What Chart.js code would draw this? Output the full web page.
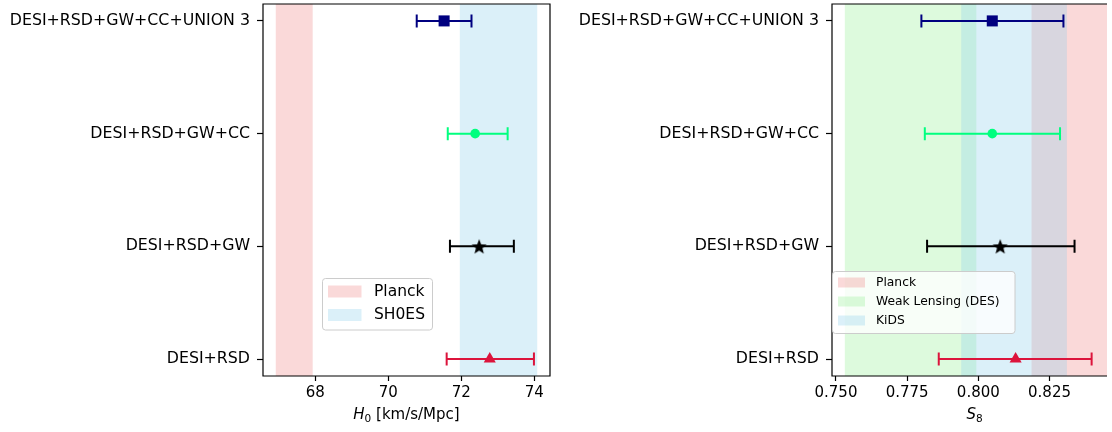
<!DOCTYPE html>
<html>
<head>
<meta charset="utf-8">
<script src="https://cdn.jsdelivr.net/npm/chart.js@4.4.1/dist/chart.umd.min.js"></script>
<style>
  body { margin: 0; background: #fff; }
  #wrap { position: relative; width: 1112px; height: 432px; }
  canvas { position: absolute; top: 0; }
</style>
</head>
<body>
<div id="wrap">
  <canvas id="h0Chart" width="556" height="432" style="left:0"></canvas>
  <canvas id="s8Chart" width="556" height="432" style="left:556px"></canvas>
</div>
<script>
// combinations, top to bottom
const labels = ['DESI+RSD+GW+CC+UNION 3', 'DESI+RSD+GW+CC', 'DESI+RSD+GW', 'DESI+RSD'];
const colors = ['#000080', '#00ff7f', '#000000', '#dc143c'];

// H0 results
const h0Val = [71.53, 72.38, 72.49, 72.78];
const h0Lo = [70.78, 71.63, 71.69, 71.60];
const h0Hi = [72.28, 73.27, 73.44, 73.99];
const h0Ticks = [68, 70, 72, 74];

// S8 results
const s8Val = [0.8049, 0.8049, 0.8077, 0.8131];
const s8Lo = [0.7800, 0.7812, 0.7820, 0.7861];
const s8Hi = [0.8299, 0.8287, 0.8338, 0.8398];
const s8Ticks = [0.750, 0.775, 0.800, 0.825];

// reference bands
const h0BandNames = ['Planck', 'SH0ES'];
const h0BandLo = [66.92, 71.96];
const h0BandHi = [67.93, 74.08];
const h0BandColors = ['rgba(240,128,128,0.3)', 'rgba(135,206,235,0.3)'];

const s8BandNames = ['Planck', 'Weak Lensing (DES)', 'KiDS'];
const s8BandLo = [0.8187, 0.7531, 0.7940];
const s8BandHi = [0.8460, 0.7993, 0.8311];
const s8BandColors = ['rgba(240,128,128,0.3)', 'rgba(144,238,144,0.3)', 'rgba(135,206,235,0.3)'];

Chart.defaults.font.family = 'DejaVu Sans';
Chart.defaults.font.size = 15;
Chart.defaults.color = '#000';

function makeStar(size, color) {
    const c = document.createElement('canvas');
    c.width = size; c.height = size;
    const g = c.getContext('2d');
    g.fillStyle = color;
    g.beginPath();
    for (let i = 0; i < 10; i++) {
        const r = i % 2 ? size / 2 * 0.42 : size / 2;
        const a = -Math.PI / 2 + i * Math.PI / 5;
        const px = size / 2 + r * Math.cos(a), py = size / 2 + 0.8 + r * Math.sin(a);
        if (i === 0) g.moveTo(px, py); else g.lineTo(px, py);
    }
    g.closePath();
    g.fill();
    return c;
}

const styles = ['rect', 'circle', makeStar(16, '#000'), 'triangle'];
const radii = [7.8, 4.8, 7, 7];

const panelPlugin = {
    id: 'panel',
    beforeDatasetsDraw(chart, args, o) {
        const ctx = chart.ctx, a = chart.chartArea, x = chart.scales.x, y = chart.scales.y;
        ctx.save();
        ctx.beginPath();
        ctx.rect(a.left, a.top, a.right - a.left, a.bottom - a.top);
        ctx.clip();
        o.bandLo.forEach((lo, i) => {
            const x0 = x.getPixelForValue(lo), x1 = x.getPixelForValue(o.bandHi[i]);
            ctx.fillStyle = o.bandColors[i];
            ctx.fillRect(x0, a.top, x1 - x0, a.bottom - a.top);
        });
        // error bars
        ctx.lineWidth = 2;
        o.lo.forEach((lo, i) => {
            const yy = y.getPixelForValue(i);
            const x0 = x.getPixelForValue(lo), x1 = x.getPixelForValue(o.hi[i]);
            ctx.strokeStyle = colors[i];
            ctx.beginPath();
            ctx.moveTo(x0, yy); ctx.lineTo(x1, yy);
            ctx.moveTo(x0, yy - 6.5); ctx.lineTo(x0, yy + 6.5);
            ctx.moveTo(x1, yy - 6.5); ctx.lineTo(x1, yy + 6.5);
            ctx.stroke();
        });
        ctx.restore();
    },
    afterDraw(chart, args, o) {
        const ctx = chart.ctx, a = chart.chartArea;
        ctx.save();
        // frame
        ctx.strokeStyle = '#000';
        ctx.lineWidth = 1.2;
        ctx.beginPath();
        if (o.rightSpine) {
            ctx.rect(a.left, a.top, a.right - a.left, a.bottom - a.top);
        } else {
            ctx.moveTo(a.right, a.top); ctx.lineTo(a.left, a.top);
            ctx.lineTo(a.left, a.bottom); ctx.lineTo(a.right, a.bottom);
        }
        ctx.stroke();

        // legend
        const L = o.legend;
        ctx.fillStyle = 'rgba(255,255,255,0.8)';
        ctx.strokeStyle = '#cccccc';
        ctx.lineWidth = 1;
        ctx.beginPath();
        ctx.roundRect(L.x, L.y, L.w, L.h, 3);
        ctx.fill();
        ctx.stroke();
        ctx.font = L.font + 'px DejaVu Sans';
        ctx.textBaseline = 'middle';
        ctx.textAlign = 'left';
        L.order.forEach((bi, k) => {
            const cy = L.firstRow + k * L.rowGap;
            ctx.fillStyle = o.bandColors[bi];
            ctx.fillRect(L.x + 5.5, cy - L.ph / 2, L.pw, L.ph);
            ctx.fillStyle = '#000';
            ctx.fillText(o.bandNames[bi], L.textX, cy);
        });

        // axis title with italic symbol and subscript
        const t = o.title;
        const cx = (a.left + a.right) / 2 + (t.shift || 0);
        const ty = t.y;
        ctx.font = 'italic 15px DejaVu Sans';
        const w1 = ctx.measureText(t.sym).width;
        ctx.font = '10.5px DejaVu Sans';
        const w2 = ctx.measureText(t.sub).width;
        ctx.font = '15px DejaVu Sans';
        const w3 = ctx.measureText(t.rest).width;
        let sx = cx - (w1 + w2 + w3) / 2;
        ctx.textBaseline = 'alphabetic';
        ctx.fillStyle = '#000';
        ctx.font = 'italic 15px DejaVu Sans';
        ctx.fillText(t.sym, sx, ty);
        sx += w1;
        ctx.font = '10.5px DejaVu Sans';
        ctx.fillText(t.sub, sx, ty + 3);
        sx += w2;
        ctx.font = '15px DejaVu Sans';
        ctx.fillText(t.rest, sx, ty);
        ctx.restore();
    }
};

function makePanel(id, vals, lo, hi, xmin, xmax, ticks, fmt, yWidth, padRight, panelOpts) {
    const datasets = labels.map((name, i) => ({
        label: name,
        data: [{ x: vals[i], y: i }],
        pointStyle: styles[i],
        pointRadius: radii[i],
        borderWidth: 0,
        backgroundColor: colors[i],
        borderColor: colors[i]
    }));
    new Chart(document.getElementById(id), {
        type: 'scatter',
        data: { datasets },
        options: {
            responsive: false,
            animation: false,
            devicePixelRatio: 1,
            layout: { autoPadding: false, padding: { left: 0, right: padRight, top: 4, bottom: 0 } },
            plugins: {
                legend: { display: false },
                tooltip: { enabled: false },
                panel: Object.assign({ lo, hi }, panelOpts)
            },
            scales: {
                x: {
                    type: 'linear',
                    min: xmin,
                    max: xmax,
                    afterBuildTicks: s => { s.ticks = ticks.map(v => ({ value: v })); },
                    afterFit: s => { s.height = 56; s.paddingLeft = 0; s.paddingRight = 0; },
                    ticks: { callback: fmt, padding: 3, maxRotation: 0 },
                    grid: { drawOnChartArea: false, drawTicks: true, tickLength: 5, tickColor: '#000', tickWidth: 1.2 },
                    border: { display: false }
                },
                y: {
                    type: 'linear',
                    min: -0.15,
                    max: 3.15,
                    reverse: true,
                    afterBuildTicks: s => { s.ticks = labels.map((_, i) => ({ value: i })); },
                    afterFit: s => { s.width = yWidth; s.paddingTop = 0; s.paddingBottom = 0; },
                    ticks: { callback: v => labels[v], padding: 7, font: { size: 15.8 } },
                    grid: { drawOnChartArea: false, drawTicks: true, tickLength: 6, tickColor: '#000', tickWidth: 1.2 },
                    border: { display: false }
                }
            }
        },
        plugins: [panelPlugin]
    });
}

makePanel('h0Chart', h0Val, h0Lo, h0Hi, 66.57, 74.43, h0Ticks, v => String(v), 263, 6, {
    bandNames: h0BandNames, bandLo: h0BandLo, bandHi: h0BandHi, bandColors: h0BandColors,
    rightSpine: true,
    legend: { x: 322.5, y: 278.5, w: 110, h: 51.5, font: 15.5, order: [0, 1], firstRow: 291.5, rowGap: 23.5, pw: 33.5, ph: 12, textX: 374 },
    title: { sym: 'H', sub: '0', rest: ' [km/s/Mpc]', y: 419 }
});

makePanel('s8Chart', s8Val, s8Lo, s8Hi, 0.7486, 0.8452, s8Ticks, v => v.toFixed(3), 276, 5, {
    bandNames: s8BandNames, bandLo: s8BandLo, bandHi: s8BandHi, bandColors: s8BandColors,
    rightSpine: false,
    legend: { x: 276.5, y: 271.5, w: 182.5, h: 62, font: 12.3, order: [0, 1, 2], firstRow: 282.5, rowGap: 19, pw: 27, ph: 10, textX: 320 },
    title: { sym: 'S', sub: '8', rest: '', y: 419, shift: 5 }
});
</script>
</body>
</html>
